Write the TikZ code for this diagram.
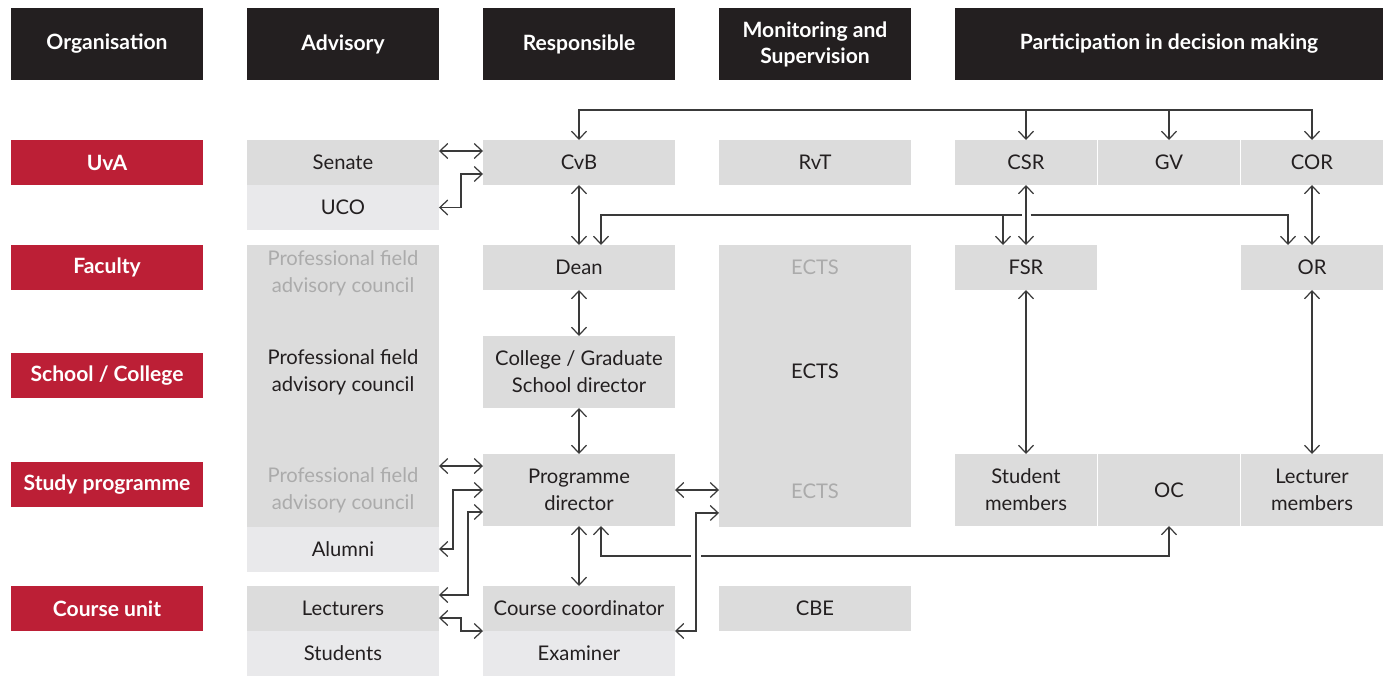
\documentclass[tikz,border=0pt]{standalone}
\usepackage{fontspec}
\setmainfont{Lato}
\usetikzlibrary{arrows.meta}

\definecolor{headdark}{HTML}{231F20}
\definecolor{uvared}{HTML}{BC1F36}
\definecolor{boxgrey}{HTML}{DCDCDC}
\definecolor{boxlight}{HTML}{E9E9EB}
\definecolor{fadetext}{HTML}{ABABAB}
\definecolor{txtdark}{HTML}{231F20}
\definecolor{linegrey}{HTML}{3A3A3A}

\begin{document}
\begin{tikzpicture}[
    x=0.02cm, y=-0.02cm,
    >={Straight Barb[length=4.5pt,width=8.5pt]},
    cell/.style={fill=boxgrey, text=txtdark, minimum width=3.84cm, minimum height=0.9cm,
        inner sep=0pt, outer sep=0pt, align=center, font=\fontsize{11.5}{15.4}\selectfont},
    lightcell/.style={cell, fill=boxlight},
    tallcell/.style={cell, minimum height=1.44cm},
    subcell/.style={cell, minimum width=2.84cm},
    head/.style={cell, fill=headdark, text=white, minimum height=1.44cm,
        font=\fontsize{12}{14.8}\selectfont\bfseries},
    rowlab/.style={cell, fill=uvared, text=white, font=\fontsize{12}{14.8}\selectfont\bfseries},
    faded/.style={text=fadetext, align=center, inner sep=0pt, font=\fontsize{11.5}{15.4}\selectfont},
    plain/.style={faded, text=txtdark},
    link/.style={draw=linegrey, line width=0.7pt}
]
    \useasboundingbox (0,0) rectangle (1390,676);

    % column headers
    \foreach \n/\x/\lab in {org/107/Organisation, adv/343/Advisory, resp/579/Responsible,
        mon/815/{Monitoring and\\Supervision}} {
        \node[head] (h-\n) at (\x,44) {\lab};
    }
    \node[head, minimum width=8.56cm] (h-part) at (1169,44) {Participation in decision making};

    % organisation levels
    \foreach \n/\y/\lab in {uva/162.5/UvA, fac/267.5/Faculty, sch/375.5/{School / College},
        stp/484.5/{Study programme}, cu/608.5/{Course unit}} {
        \node[rowlab] (r-\n) at (107,\y) {\lab};
    }

    % advisory
    \node[cell] (senate) at (343,162.5) {Senate};
    \node[lightcell] (uco) at (343,207.5) {UCO};
    \node[cell, minimum height=5.64cm] (advbox) at (343,386) {};
    \node[faded] (adv-fac) at (343,273) {Professional field\\advisory council};
    \node[plain] (adv-sch) at (343,372) {Professional field\\advisory council};
    \node[faded] (adv-stp) at (343,490) {Professional field\\advisory council};
    \node[lightcell] (alumni) at (343,549) {Alumni};
    \node[cell] (lecturers) at (343,608.5) {Lecturers};
    \node[lightcell] (students) at (343,653.5) {Students};

    % responsible
    \node[cell] (cvb) at (579,162.5) {CvB};
    \node[cell] (dean) at (579,267.5) {Dean};
    \node[tallcell] (college) at (579,372) {College / Graduate\\School director};
    \node[tallcell] (pd) at (579,490) {Programme\\director};
    \node[cell] (cc) at (579,608.5) {Course coordinator};
    \node[lightcell] (examiner) at (579,653.5) {Examiner};

    % monitoring and supervision
    \node[cell] (rvt) at (815,162.5) {RvT};
    \node[cell, minimum height=5.64cm] (ectsbox) at (815,386) {};
    \node[faded] (ects-fac) at (815,267) {ECTS};
    \node[plain] (ects-sch) at (815,371) {ECTS};
    \node[faded] (ects-stp) at (815,491) {ECTS};
    \node[cell] (cbe) at (815,608.5) {CBE};

    % participation
    \node[subcell] (csr) at (1026,162.5) {CSR};
    \node[subcell] (gv) at (1169,162.5) {GV};
    \node[subcell] (cor) at (1312,162.5) {COR};
    \node[subcell] (fsr) at (1026,267.5) {FSR};
    \node[subcell] (or) at (1312,267.5) {OR};
    \node[subcell, minimum height=1.44cm] (stm) at (1026,490) {Student\\members};
    \node[subcell, minimum height=1.44cm] (oc) at (1169,490) {OC};
    \node[subcell, minimum height=1.44cm] (lcm) at (1312,490) {Lecturer\\members};

    % helper points
    \coordinate (top) at (0,110);
    \coordinate (b2) at (1026,215);
    \coordinate (cross) at (696,556);
    \coordinate (fsrdrop) at ([xshift=-0.46cm]fsr.north);
    \coordinate (pdA) at ([yshift=-0.24cm]pd.north west);
    \coordinate (ectsB) at ([yshift=0.28cm]ectsbox.south west);

    % connectors
    \draw[link,<->] ([yshift=-0.22cm]senate.north east) -- ([yshift=-0.22cm]cvb.north west);
    \draw[link,<->] (uco.east) -- ++(22,0) |- ([yshift=0.22cm]cvb.south west);

    \draw[link,<->] (cvb.north) |- (top -| cor.north) -- (cor.north);
    \foreach \n in {csr,gv} {
        \draw[link,->] (top -| \n.north) -- (\n.north);
    }

    \draw[link,<-] ([xshift=0.44cm]dean.north) |- ([xshift=-0.09cm]b2);
    \draw[link,->] ([xshift=0.09cm]b2) -| ([xshift=-0.48cm]or.north);
    \draw[link,->] (fsrdrop |- b2) -- (fsrdrop);

    \foreach \a/\b in {cvb/dean, dean/college, college/pd, pd/cc, csr/fsr, cor/or, fsr/stm, or/lcm} {
        \draw[link,<->] (\a) -- (\b);
    }

    \draw[link,<->] (pdA -| advbox.east) -- (pdA);
    \draw[link,<->] (alumni.east) -- ++(14,0) |- (pd.west);
    \draw[link,<->] ([yshift=-0.18cm]lecturers.north east) -- ++(29,0) |- ([yshift=0.28cm]pd.south west);
    \draw[link,<->] ([yshift=0.26cm]lecturers.south east) -- ++(22,0) |- (examiner.north west);

    \draw[link,<->] (pd.east) -- (pd.east -| ectsbox.west);
    \draw[link,<->] (cc.south east) -| (cross) |- (ectsB);

    \draw[link,<-] ([xshift=0.44cm]pd.south) |- ([xshift=-0.1cm]cross);
    \draw[link,->] ([xshift=0.1cm]cross) -| (oc.south);
\end{tikzpicture}
\end{document}
